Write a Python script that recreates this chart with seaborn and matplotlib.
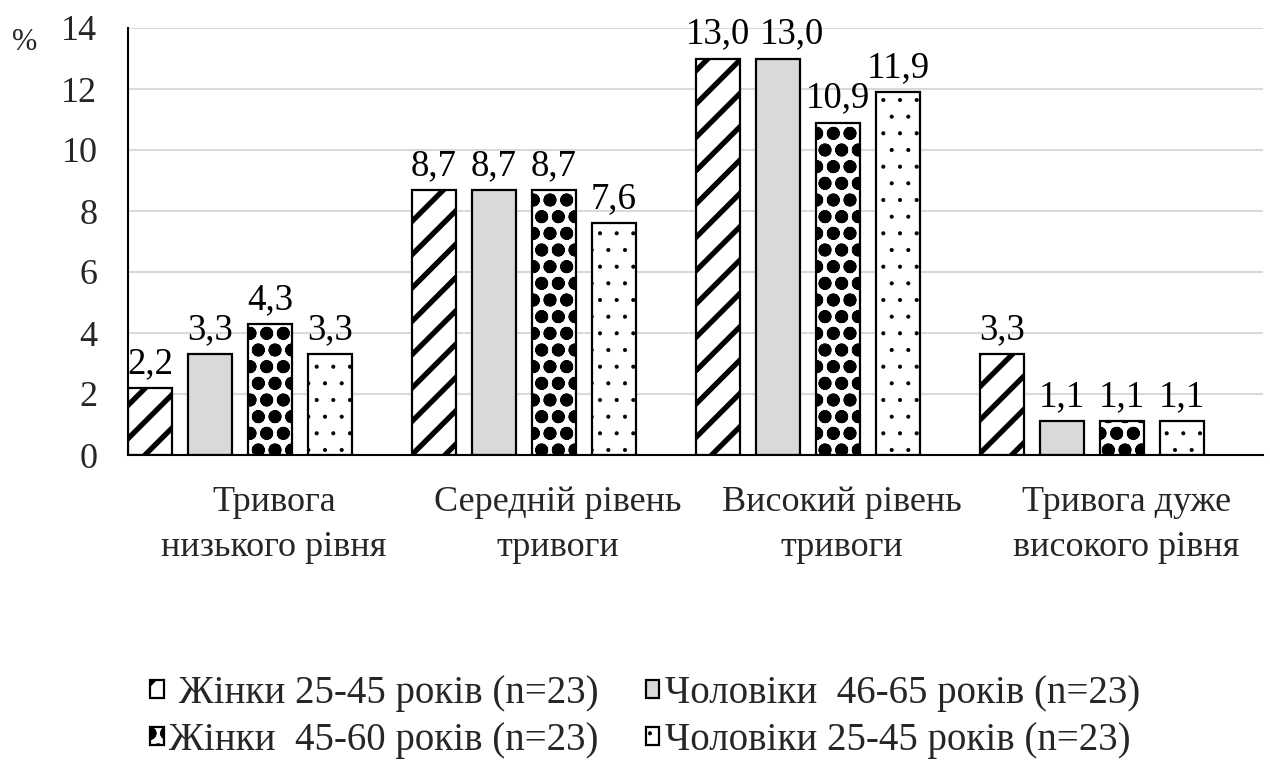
# encoding=utf-8

import pandas as pd
import seaborn as sns
import matplotlib.pyplot as plt

# data
categories = ['Тривога\nнизького рівня', 'Середній рівень\nтривоги',
              'Високий рівень\nтривоги', 'Тривога дуже\nвисокого рівня']
groups = [' Жінки 25-45 років (n=23)', 'Чоловіки  46-65 років (n=23)',
          'Жінки  45-60 років (n=23)', 'Чоловіки 25-45 років (n=23)']
women_25_45 = [2.2, 8.7, 13.0, 3.3]
men_46_65 = [3.3, 8.7, 13.0, 1.1]
women_45_60 = [4.3, 8.7, 10.9, 1.1]
men_25_45 = [3.3, 7.6, 11.9, 1.1]

rows = []
for g, vals in zip(groups, [women_25_45, men_46_65, women_45_60, men_25_45]):
    for c, v in zip(categories, vals):
        rows.append((c, g, v))
df = pd.DataFrame(rows, columns=['category', 'group', 'value'])

# style
sns.set_style("white")
plt.rcParams['font.family'] = ['Liberation Serif', 'DejaVu Serif']
plt.rcParams['hatch.color'] = 'black'
plt.rcParams['hatch.linewidth'] = 1.0

fig = plt.figure(figsize=(12.7, 7.71), dpi=100)
ax = fig.add_axes([128 / 1270, 1 - 455 / 771, (1263 - 128) / 1270, (455 - 28) / 771])

sns.barplot(data=df, x='category', y='value', hue='group', order=categories,
            hue_order=groups, palette=['white', '#d9d9d9', 'white', 'white'],
            width=4 * 60 / 284, gap=1 - 44 / 60, edgecolor='black', linewidth=1.6,
            saturation=1, legend=False, ax=ax, errorbar=None)

hatches = ['/', '', '.o', '.']
hatch_lw = [3.8, 1.0, 4.6, 0.5]
label_sets = []
for cont, h, lw in zip(ax.containers, hatches, hatch_lw):
    for p in cont.patches:
        p.set_hatch(h)
        if hasattr(p, 'set_hatch_linewidth'):
            p.set_hatch_linewidth(lw)
    anns = ax.bar_label(cont, labels=[('%.1f' % v).replace('.', ',') for v in cont.datavalues],
                        fontsize=26.5, padding=5, color='black')
    label_sets.append(anns)

# second "13,0" is pushed right in the original
label_sets[1][2].xyann = (10, 5)

ax.set_ylim(0, 14)
ax.set_yticks(range(0, 15, 2))
ax.set_xlim(-0.394, 3.602)
ax.set_xticks([i + 0.12 for i in range(len(categories))])
ax.set_xticklabels(categories, linespacing=1.5)
ax.tick_params(axis='x', length=0, pad=22, labelsize=26)
ax.tick_params(axis='y', length=0, pad=22, labelsize=26)
ax.set_xlabel('')
ax.set_ylabel('')
ax.grid(axis='y', color='#d9d9d9', linewidth=1.5)
ax.set_axisbelow(True)
for s in ['top', 'right']:
    ax.spines[s].set_visible(False)
ax.spines['left'].set_color('black')
ax.spines['bottom'].set_color('black')
ax.spines['left'].set_linewidth(1.5)
ax.spines['bottom'].set_linewidth(1.5)

fig.text(12 / 1270, 1 - 42 / 771, '%', fontsize=22, va='center', ha='left')

order = [0, 2, 1, 3]
handles = [ax.containers[i].patches[0] for i in order]
labels = [groups[i] for i in order]
leg = fig.legend(handles, labels, ncol=2, loc='center', bbox_to_anchor=(0.508, 1 - 717 / 771),
                 frameon=False, fontsize=28, handlelength=0.35, handleheight=0.35,
                 handletextpad=0.15, columnspacing=1.2, labelspacing=0.25)
for hd, i in zip(leg.legend_handles, order):
    if hasattr(hd, 'set_hatch_linewidth'):
        hd.set_hatch_linewidth(hatch_lw[i])

plt.savefig('out.png', dpi=100)
